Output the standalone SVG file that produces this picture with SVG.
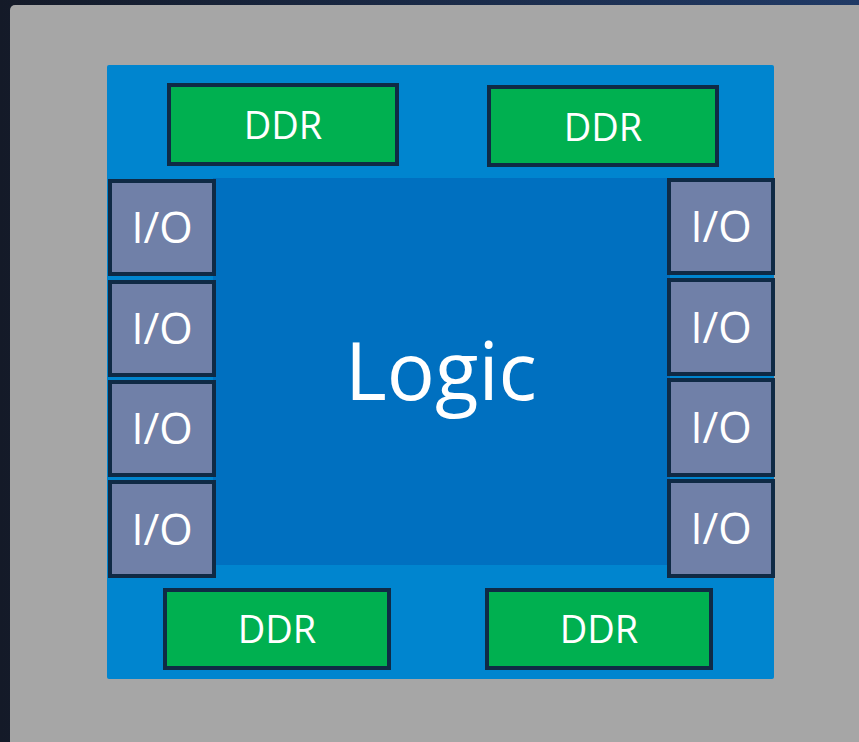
<svg xmlns="http://www.w3.org/2000/svg" width="859" height="742" viewBox="0 0 859 742">
  <defs>
    <linearGradient id="bgGrad" x1="0" y1="0" x2="1" y2="0">
      <stop offset="0" stop-color="#141a28"/>
      <stop offset="1" stop-color="#203a66"/>
    </linearGradient>
  </defs>
  <style>
    .ddr { fill: #00b050; stroke: #0f2a45; stroke-width: 4; }
    .io { fill: #7080a8; stroke: #0f2a45; stroke-width: 4; }
    .lbl { fill: #ffffff; font-family: "Open Sans", "Noto Sans", sans-serif; text-anchor: middle; }
    .ddr-t { font-size: 38px; }
    .io-t { font-size: 43px; }
  </style>

  <!-- backdrop and board -->
  <rect x="0" y="0" width="859" height="742" fill="url(#bgGrad)"/>
  <rect x="10" y="5" width="870" height="760" rx="5" fill="#a6a6a6"/>

  <!-- package and logic fabric -->
  <g id="chip">
    <rect x="107" y="65" width="667" height="614" rx="2" fill="#0085cf"/>
  </g>
  <g id="logic">
    <rect x="213" y="178" width="457" height="387" fill="#0070c0"/>
    <text class="lbl" x="441" y="400" font-size="80">Logic</text>
  </g>

  <!-- memory interfaces -->
  <g id="ddr-top-left">
    <rect class="ddr" x="169" y="85" width="228" height="79"/>
    <text class="lbl ddr-t" x="283" y="139">DDR</text>
  </g>
  <g id="ddr-top-right">
    <rect class="ddr" x="489" y="87" width="228" height="78"/>
    <text class="lbl ddr-t" x="603" y="141">DDR</text>
  </g>
  <g id="ddr-bottom-left">
    <rect class="ddr" x="165" y="590" width="224" height="78"/>
    <text class="lbl ddr-t" x="277" y="643">DDR</text>
  </g>
  <g id="ddr-bottom-right">
    <rect class="ddr" x="487" y="590" width="224" height="78"/>
    <text class="lbl ddr-t" x="599" y="643">DDR</text>
  </g>

  <!-- left I/O column -->
  <g id="io-left-1">
    <rect class="io" x="110" y="181" width="104" height="93"/>
    <text class="lbl io-t" x="162" y="243">I/O</text>
  </g>
  <g id="io-left-2">
    <rect class="io" x="110" y="282" width="104" height="93"/>
    <text class="lbl io-t" x="162" y="344">I/O</text>
  </g>
  <g id="io-left-3">
    <rect class="io" x="110" y="382" width="104" height="93"/>
    <text class="lbl io-t" x="162" y="444">I/O</text>
  </g>
  <g id="io-left-4">
    <rect class="io" x="110" y="482" width="104" height="94"/>
    <text class="lbl io-t" x="162" y="545">I/O</text>
  </g>

  <!-- right I/O column -->
  <g id="io-right-1">
    <rect class="io" x="669" y="180" width="104" height="93"/>
    <text class="lbl io-t" x="721" y="242">I/O</text>
  </g>
  <g id="io-right-2">
    <rect class="io" x="669" y="280" width="104" height="94"/>
    <text class="lbl io-t" x="721" y="343">I/O</text>
  </g>
  <g id="io-right-3">
    <rect class="io" x="669" y="380" width="104" height="95"/>
    <text class="lbl io-t" x="721" y="443">I/O</text>
  </g>
  <g id="io-right-4">
    <rect class="io" x="669" y="481" width="104" height="95"/>
    <text class="lbl io-t" x="721" y="544">I/O</text>
  </g>

  <g id="connectors"/>
</svg>
